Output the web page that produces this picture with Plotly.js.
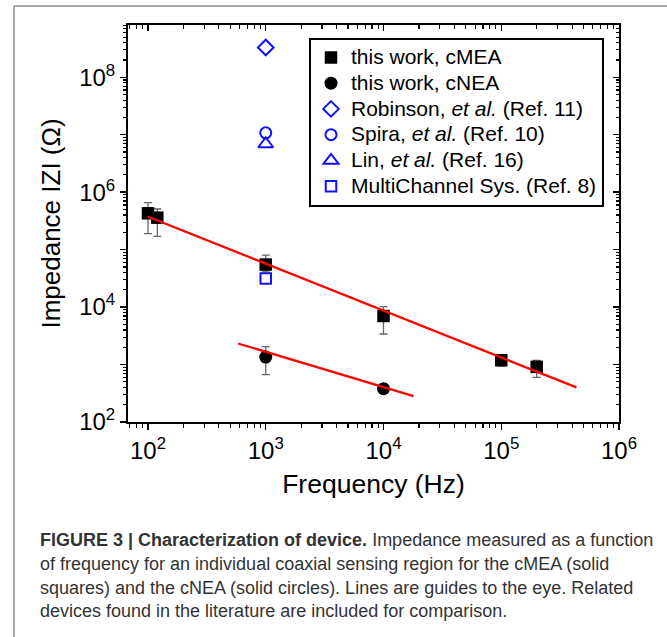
<!DOCTYPE html>
<html>
<head>
<meta charset="utf-8">
<script src="https://cdn.plot.ly/plotly-3.0.1.min.js"></script>
<style>
  html, body { margin: 0; padding: 0; background: #ffffff; }
  #chart { width: 667px; height: 637px; }
</style>
</head>
<body>
<div id="chart"></div>
<script>
// ---------------- data ----------------
const cmeaFreq = [100, 120, 1000, 10000, 100000, 200000];
const cmeaZ = [430000, 360000, 55000, 7000, 1190, 910];
const cmeaErrPlus = [230000, 150000, 25000, 3200, 165, 270];
const cmeaErrMinus = [240000, 190000, 14000, 3600, 250, 310];

const cneaFreq = [1000, 10000];
const cneaZ = [1350, 380];
const cneaErrPlus = [700, 40];
const cneaErrMinus = [680, 40];

const robinsonFreq = [1000];
const robinsonZ = [330000000];
const spiraFreq = [1000];
const spiraZ = [10800000];
const linFreq = [1000];
const linZ = [6900000];
const mcsFreq = [1000];
const mcsZ = [31500];

// guide-to-the-eye lines
const guideMEAx = [100, 435000];
const guideMEAy = [374000, 400];
const guideNEAx = [582, 18000];
const guideNEAy = [2325, 281];

const xTickVals = [100, 1000, 10000, 100000, 1000000];
const xTickText = ['10<sup>2</sup>', '10<sup>3</sup>', '10<sup>4</sup>', '10<sup>5</sup>', '10<sup>6</sup>'];
const yTickVals = [1e2, 1e3, 1e4, 1e5, 1e6, 1e7, 1e8];
const yTickText = ['10<sup>2</sup>', '', '10<sup>4</sup>', '', '10<sup>6</sup>', '', '10<sup>8</sup>'];

const legendNames = [
  'this work, cMEA',
  'this work, cNEA',
  'Robinson, <i>et al.</i> (Ref. 11)',
  'Spira, <i>et al.</i> (Ref. 10)',
  'Lin, <i>et al.</i> (Ref. 16)',
  'MultiChannel Sys. (Ref. 8)'
];

const captionLines = [
  '<b>FIGURE 3 | Characterization of device.</b> Impedance measured as a function',
  'of frequency for an individual coaxial sensing region for the cMEA (solid',
  'squares) and the cNEA (solid circles). Lines are guides to the eye. Related',
  'devices found in the literature are included for comparison.'
];

// ---------------- layout geometry ----------------
const W = 667, H = 637;
const mL = 128, mR = 48, mT = 25, mB = 215.3;
const plotW = W - mL - mR, plotH = H - mT - mB;
const px2x = p => (p - mL) / plotW;
const py2y = p => (H - mB - p) / plotH;

const FONT = 'Liberation Sans, Arial, Helvetica, sans-serif';
const blue = '#1010ff';
const errStyle = { type: 'data', symmetric: false, color: '#666666', thickness: 1.3, width: 4 };
const big = s => '<span style="font-size:21px">' + s + '</span>';

const traces = [
  {
    x: cmeaFreq, y: cmeaZ, mode: 'markers', type: 'scatter', name: big(legendNames[0]),
    marker: { symbol: 'square', size: 12.5, color: '#000000' },
    error_y: Object.assign({ array: cmeaErrPlus, arrayminus: cmeaErrMinus }, errStyle)
  },
  {
    x: cneaFreq, y: cneaZ, mode: 'markers', type: 'scatter', name: big(legendNames[1]),
    marker: { symbol: 'circle', size: 13, color: '#000000' },
    error_y: Object.assign({ array: cneaErrPlus, arrayminus: cneaErrMinus }, errStyle)
  },
  {
    x: robinsonFreq, y: robinsonZ, mode: 'markers', type: 'scatter', name: big(legendNames[2]),
    marker: { symbol: 'diamond-open', size: 12, color: blue, line: { width: 2, color: blue } }
  },
  {
    x: spiraFreq, y: spiraZ, mode: 'markers', type: 'scatter', name: big(legendNames[3]),
    marker: { symbol: 'circle-open', size: 11, color: blue, line: { width: 2, color: blue } }
  },
  {
    x: linFreq, y: linZ, mode: 'markers', type: 'scatter', name: big(legendNames[4]),
    marker: { symbol: 'triangle-up-open', size: 13, color: blue, line: { width: 2, color: blue } }
  },
  {
    x: mcsFreq, y: mcsZ, mode: 'markers', type: 'scatter', name: big(legendNames[5]),
    marker: { symbol: 'square-open', size: 10.5, color: blue, line: { width: 2, color: blue } }
  },
  {
    x: guideMEAx, y: guideMEAy, mode: 'lines', type: 'scatter', showlegend: false,
    line: { color: '#ff0000', width: 2.3 }, hoverinfo: 'skip'
  },
  {
    x: guideNEAx, y: guideNEAy, mode: 'lines', type: 'scatter', showlegend: false,
    line: { color: '#ff0000', width: 2.3 }, hoverinfo: 'skip'
  },
  // invisible trace to activate mirrored axes (top/right with inside ticks)
  {
    x: guideMEAx, y: guideMEAy, xaxis: 'x2', yaxis: 'y2', mode: 'markers', type: 'scatter',
    showlegend: false, marker: { opacity: 0 }, hoverinfo: 'skip'
  }
];

const xRange = [Math.log10(100) - 20 / 117.8, 6];
const yRange = [2, 8.91];

const layout = {
  width: W, height: H,
  margin: { l: mL, r: mR, t: mT, b: mB, pad: 0 },
  paper_bgcolor: '#ffffff', plot_bgcolor: '#ffffff',
  font: { family: FONT, color: '#000000' },
  showlegend: true,
  xaxis: {
    type: 'log', range: xRange,
    tickmode: 'array', tickvals: xTickVals, ticktext: xTickText,
    ticks: 'outside', ticklen: 6, tickwidth: 1.5, tickcolor: '#000',
    minor: { ticks: 'outside', ticklen: 3.5, tickwidth: 1.2, tickcolor: '#000', dtick: 'D1', showgrid: false },
    showline: true, linecolor: '#000', linewidth: 2, mirror: false,
    showgrid: false, zeroline: false,
    tickfont: { size: 24, family: FONT, color: '#000' },
    title: { text: 'Frequency (Hz)', font: { size: 26.5, family: FONT, color: '#000' }, standoff: 12 }
  },
  yaxis: {
    type: 'log', range: yRange,
    tickmode: 'array', tickvals: yTickVals, ticktext: yTickText,
    ticks: 'outside', ticklen: 6, tickwidth: 1.5, tickcolor: '#000',
    minor: { ticks: 'outside', ticklen: 3.5, tickwidth: 1.2, tickcolor: '#000', dtick: 'D1', showgrid: false },
    showline: true, linecolor: '#000', linewidth: 2, mirror: false,
    showgrid: false, zeroline: false,
    tickfont: { size: 24, family: FONT, color: '#000' },
    title: { text: 'Impedance IZI (Ω)', font: { size: 26, family: FONT, color: '#000' }, standoff: 11 }
  },
  xaxis2: {
    type: 'log', range: xRange, overlaying: 'x', side: 'top', anchor: 'y2',
    tickmode: 'array', tickvals: xTickVals, showticklabels: false,
    ticks: 'inside', ticklen: 6, tickwidth: 1.5, tickcolor: '#000',
    minor: { ticks: 'inside', ticklen: 3.5, tickwidth: 1.2, tickcolor: '#000', dtick: 'D1', showgrid: false },
    showline: true, linecolor: '#000', linewidth: 2,
    showgrid: false, zeroline: false
  },
  yaxis2: {
    type: 'log', range: yRange, overlaying: 'y', side: 'right', anchor: 'x2',
    tickmode: 'array', tickvals: yTickVals, showticklabels: false,
    ticks: 'inside', ticklen: 6, tickwidth: 1.5, tickcolor: '#000',
    minor: { ticks: 'inside', ticklen: 3.5, tickwidth: 1.2, tickcolor: '#000', dtick: 'D1', showgrid: false },
    showline: true, linecolor: '#000', linewidth: 2,
    showgrid: false, zeroline: false
  },
  legend: {
    x: px2x(309), y: py2y(37.5), xanchor: 'left', yanchor: 'top',
    bgcolor: '#ffffff', bordercolor: '#000000', borderwidth: 2,
    font: { size: 17.5, family: FONT, color: '#000' },
    tracegroupgap: 0, itemwidth: 30
  },
  shapes: [
    { type: 'line', xref: 'paper', yref: 'paper', x0: px2x(14), x1: px2x(668), y0: py2y(6), y1: py2y(6),
      line: { color: '#8a8a8a', width: 1.5 } },
    { type: 'line', xref: 'paper', yref: 'paper', x0: px2x(14), x1: px2x(14), y0: py2y(6), y1: py2y(640),
      line: { color: '#8a8a8a', width: 1.5 } }
  ],
  annotations: [
    { xref: 'paper', yref: 'paper', x: px2x(38), y: py2y(528), xanchor: 'left', yanchor: 'top',
      align: 'left', showarrow: false,
      text: captionLines.map(l => '<span style="font-size:18px">' + l + '</span>').join('<br>'),
      font: { size: 18.3, family: FONT, color: '#333333' } }
  ]
};

Plotly.newPlot('chart', traces, layout, { staticPlot: true, displayModeBar: false });
</script>
</body>
</html>
